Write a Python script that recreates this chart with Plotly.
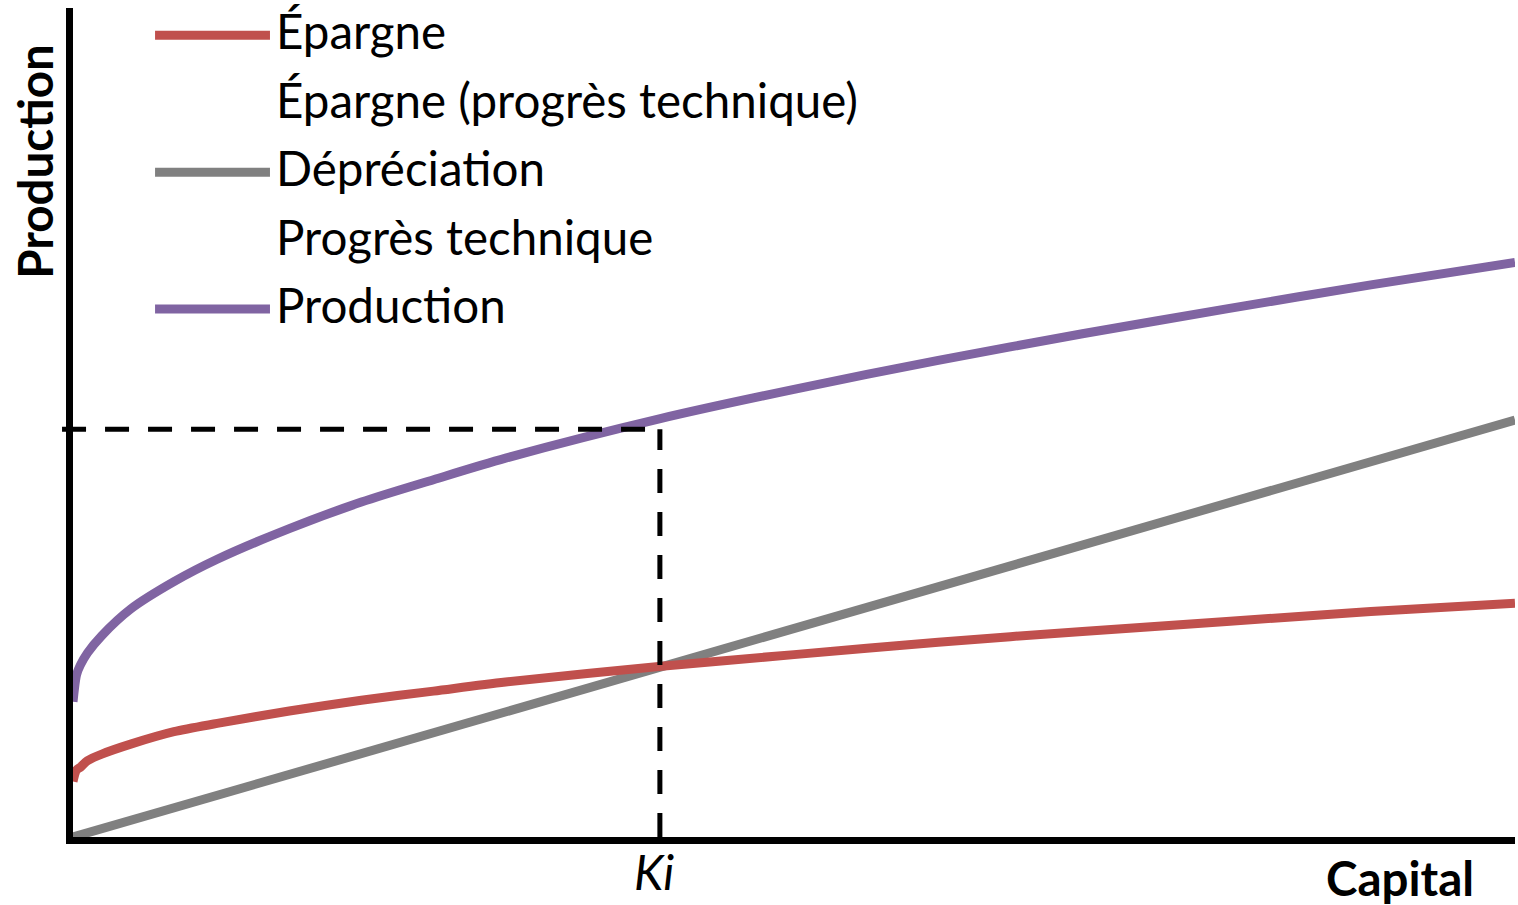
import plotly.graph_objects as go

# ---- data (arbitrary units) ----
capital = [0, 0.25, 0.5, 1, 2, 4, 7, 10, 15, 20, 25, 30, 40.8, 50, 60, 70, 80, 90, 100]
production = [16.3, 19.6, 20.7, 22.2, 24.3, 27.5, 30.8, 33.5, 37.2, 40.4, 43.1, 45.7,
              50.5, 54.0, 57.5, 60.7, 63.7, 66.6, 69.3]
epargne = [6.7, 8.1, 8.4, 9.2, 10.0, 11.2, 12.7, 13.7, 15.2, 16.5, 17.6, 18.7,
           20.6, 22.0, 23.5, 24.8, 26.0, 27.2, 28.2]
depr_capital = [0, 100]
depreciation = [0, 50.3]
ki_value = 40.7          # capital at the steady state
ki_output = 49.2         # production level marked by the dashed line
ki_label = "Ki"

series_names = ["Épargne", "Épargne (progrès technique)", "Dépréciation",
                "Progrès technique", "Production"]
series_colors = ["#C0504D", None, "#808080", None, "#8064A2"]

X_RANGE = [0, 100]
Y_RANGE = [0, 100]
FONT = "Lato"
FS = 47.5

fig = go.Figure()
fig.add_trace(go.Scatter(x=capital, y=production, mode="lines", name=series_names[4],
                         line=dict(color=series_colors[4], width=9, shape="spline", smoothing=0.8),
                         showlegend=False))
fig.add_trace(go.Scatter(x=depr_capital, y=depreciation, mode="lines", name=series_names[2],
                         line=dict(color=series_colors[2], width=9), showlegend=False))
fig.add_trace(go.Scatter(x=capital, y=epargne, mode="lines", name=series_names[0],
                         line=dict(color=series_colors[0], width=9, shape="spline", smoothing=0.8),
                         showlegend=False))
# series present in the legend but not drawn
fig.add_trace(go.Scatter(x=[], y=[], mode="lines", name=series_names[1], showlegend=False))
fig.add_trace(go.Scatter(x=[], y=[], mode="lines", name=series_names[3], showlegend=False))

# dashed guide lines at Ki
dash_style = dict(color="black", width=5, dash="24px,19px")
x_frac = (ki_value - X_RANGE[0]) / (X_RANGE[1] - X_RANGE[0])
fig.add_shape(type="line", xref="paper", yref="y", x0=-0.0076, x1=x_frac,
              y0=ki_output, y1=ki_output, line=dash_style, layer="above")
fig.add_shape(type="line", xref="x", yref="y", x0=ki_value, x1=ki_value,
              y0=Y_RANGE[0], y1=ki_output, line=dash_style, layer="above")

# custom legend (long line samples like the original)
row_y = [0.9731, 0.8900, 0.8080, 0.7249, 0.6429]
for name, color, yy in zip(series_names, series_colors, row_y):
    if color:
        fig.add_shape(type="line", xref="paper", yref="paper", x0=0.0569, x1=0.1366,
                      y0=yy - 0.006, y1=yy - 0.006, line=dict(color=color, width=9))
    fig.add_annotation(xref="paper", yref="paper", x=0.1395, y=yy, text=name,
                       showarrow=False, xanchor="left", yanchor="middle",
                       font=dict(family=FONT, size=FS, color="black"))

# Ki label under the axis
fig.add_annotation(xref="x", yref="paper", x=ki_value, y=-0.0416, xshift=-6,
                   text="<i>" + ki_label + "</i>", showarrow=False,
                   xanchor="center", yanchor="middle",
                   font=dict(family=FONT, size=FS, color="black"))

# axis titles
fig.add_annotation(xref="paper", yref="paper", x=-0.0264, y=0.8156, text="<b>Production</b>",
                   textangle=-90, showarrow=False, xanchor="center", yanchor="middle",
                   font=dict(family=FONT, size=FS, color="black"))
fig.add_annotation(xref="paper", yref="paper", x=0.920, y=-0.049, text="<b>Capital</b>",
                   showarrow=False, xanchor="center", yanchor="middle",
                   font=dict(family=FONT, size=FS, color="black"))

fig.update_layout(
    width=1518, height=905,
    margin=dict(l=73, r=3, t=8, b=67.5),
    paper_bgcolor="white", plot_bgcolor="white",
    showlegend=False,
    xaxis=dict(range=X_RANGE, showgrid=False, zeroline=False, showline=True,
               linecolor="black", linewidth=7, showticklabels=False, ticks="",
               automargin=False),
    yaxis=dict(range=Y_RANGE, showgrid=False, zeroline=False, showline=True,
               linecolor="black", linewidth=7, showticklabels=False, ticks="",
               automargin=False),
)

fig.write_html("out.html", config={"displayModeBar": False},
               post_script="document.body.style.margin='0px';"
                           "document.body.style.overflow='hidden';")
